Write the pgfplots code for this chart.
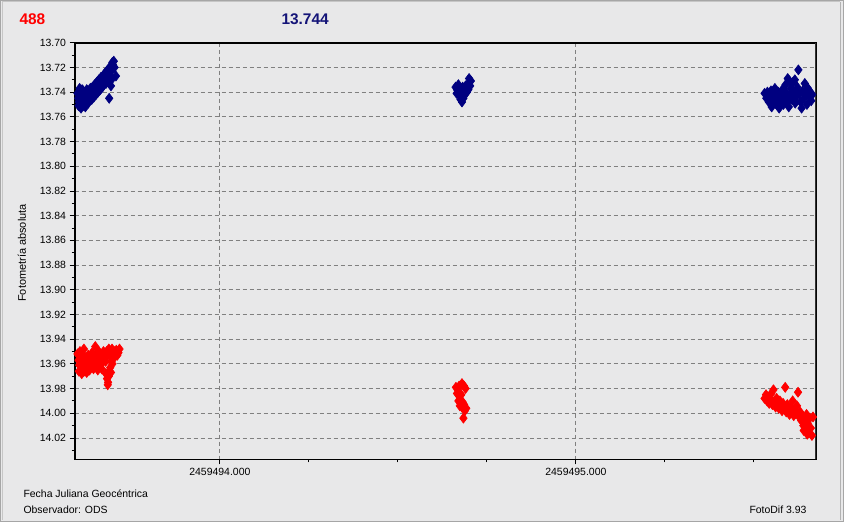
\documentclass[border=0pt]{standalone}
\usepackage{pgfplots}
\pgfplotsset{compat=1.18}
\usepackage{fontspec}
\setmainfont{Liberation Sans}
\definecolor{bgcol}{RGB}{232,232,233}
\definecolor{navy}{RGB}{0,0,128}
\definecolor{titlenavy}{RGB}{20,20,120}
\definecolor{gridgray}{RGB}{128,128,128}
\begin{document}
\begin{tikzpicture}
\useasboundingbox (0,0) rectangle (844bp,522bp);
\fill[bgcol] (0,0) rectangle (844bp,522bp);
\draw[gray!70, line width=1bp] (0.5bp,0.5bp) rectangle (843.5bp,521.5bp);
\draw[gray!45, line width=1bp] (2bp,2bp) -- (2bp,520bp) -- (840bp,520bp);
\draw[gray!60, line width=1bp] (840bp,2bp) -- (840bp,520bp);
\node[anchor=west, text=red, font=\fontsize{15.5}{18}\selectfont\bfseries] at (16bp,503bp) {488};
\node[anchor=west, text=titlenavy, font=\fontsize{15.5}{18}\selectfont\bfseries] at (278bp,503bp) {13.744};
\node[rotate=90, font=\fontsize{11}{13}\selectfont] at (22bp,269bp) {Fotometría absoluta};
\node[anchor=west, font=\fontsize{10.5}{12}\selectfont] at (20bp,28bp) {Fecha Juliana Geocéntrica};
\node[anchor=west, font=\fontsize{10.5}{12}\selectfont] at (20bp,12bp) {Observador: ODS};
\node[anchor=east, font=\fontsize{10.5}{12}\selectfont] at (810bp,12bp) {FotoDif 3.93};
\begin{axis}[
  at={(74.5bp,62.7bp)}, anchor=south west,
  scale only axis, width=741.5bp, height=416.6bp,
  xmin=0.5916, xmax=2.6745,
  ymin=13.70, ymax=14.0373, y dir=reverse,
  xtick={1,2}, xticklabels={2459494.000,2459495.000},
  minor xtick={1.25,1.5,1.75,2.25,2.5},
  ytick={13.70,13.72,13.74,13.76,13.78,13.80,13.82,13.84,13.86,13.88,13.90,13.92,13.94,13.96,13.98,14.00,14.02},
  minor ytick={13.71,13.73,13.75,13.77,13.79,13.81,13.83,13.85,13.87,13.89,13.91,13.93,13.95,13.97,13.99,14.01,14.03},
  yticklabel style={/pgf/number format/.cd,fixed,fixed zerofill,precision=2},
  /pgf/number format/assume math mode=true,
  ticklabel style={font=\fontsize{10.5}{12}\selectfont},
  tick pos=left, tick align=outside,
  major tick length=5bp, minor tick length=3bp,
  tick style={black, line width=0.8bp},
  grid=major,
  major grid style={gridgray, line width=0.8bp, dash pattern=on 4bp off 3bp},
  axis line style={black, line width=1bp},
  axis background/.style={fill=bgcol},
  clip=true,
  blue pts/.style={only marks, mark=diamond*, mark size=5bp, color=navy, mark options={draw=navy, fill=navy, line width=0.6bp}},
  red pts/.style={only marks, mark=diamond*, mark size=5bp, color=red, mark options={draw=red, fill=red, line width=0.6bp}},
]
% blue cluster 1
\addplot[blue pts] coordinates {
(0.600,13.741)(0.602,13.745)(0.604,13.748)(0.606,13.740)(0.608,13.744)(0.610,13.749)(0.612,13.742)(0.614,13.746)(0.616,13.739)(0.618,13.751)(0.620,13.744)(0.622,13.740)(0.624,13.747)(0.626,13.738)(0.628,13.743)(0.630,13.749)(0.632,13.741)(0.634,13.745)(0.636,13.737)(0.638,13.742)(0.640,13.746)(0.642,13.736)(0.644,13.740)(0.646,13.744)(0.648,13.734)(0.650,13.738)(0.652,13.742)(0.654,13.732)(0.656,13.736)(0.658,13.740)(0.660,13.730)(0.662,13.734)(0.664,13.738)(0.666,13.728)(0.668,13.732)(0.670,13.736)(0.672,13.727)(0.674,13.731)(0.676,13.725)(0.678,13.729)(0.680,13.733)(0.682,13.723)(0.684,13.727)(0.686,13.722)(0.688,13.726)(0.690,13.720)(0.692,13.724)(0.694,13.719)(0.696,13.722)(0.698,13.716)(0.700,13.718)(0.702,13.715)(0.704,13.720)(0.690,13.731)(0.694,13.735)(0.698,13.729)(0.689,13.745)(0.708,13.727)
(0.603,13.751)(0.610,13.753)(0.615,13.750)(0.622,13.752)(0.628,13.747)(0.606,13.737)(0.613,13.738)
};
% red cluster 1
\addplot[red pts] coordinates {
(0.600,13.952)(0.603,13.957)(0.605,13.961)(0.607,13.950)(0.609,13.955)(0.611,13.959)(0.613,13.963)(0.615,13.953)(0.617,13.957)(0.619,13.961)(0.621,13.966)(0.623,13.955)(0.625,13.959)(0.627,13.963)(0.630,13.953)(0.633,13.958)(0.636,13.962)(0.639,13.956)(0.642,13.960)(0.645,13.964)(0.648,13.954)(0.650,13.946)(0.652,13.959)(0.655,13.963)(0.658,13.953)(0.661,13.957)(0.664,13.961)(0.667,13.955)(0.670,13.959)(0.673,13.950)(0.676,13.954)(0.679,13.958)(0.682,13.950)(0.685,13.953)(0.688,13.948)(0.691,13.952)(0.694,13.950)(0.697,13.948)(0.700,13.952)(0.703,13.950)(0.706,13.954)(0.709,13.949)(0.712,13.953)(0.715,13.951)(0.718,13.948)
(0.680,13.968)(0.683,13.972)(0.686,13.975)(0.688,13.970)(0.690,13.966)(0.692,13.963)(0.694,13.967)(0.685,13.977)(0.695,13.958)(0.698,13.960)
(0.604,13.966)(0.612,13.968)(0.618,13.948)(0.626,13.967)(0.634,13.965)(0.641,13.951)(0.657,13.965)(0.668,13.964)(0.660,13.950)
};
% blue cluster 2
\addplot[blue pts] coordinates {
(1.700,13.729)(1.705,13.731)(1.698,13.733)(1.703,13.735)(1.695,13.736)(1.662,13.736)(1.666,13.738)(1.670,13.734)(1.674,13.737)(1.678,13.740)(1.682,13.736)(1.686,13.739)(1.690,13.735)(1.694,13.740)(1.698,13.738)(1.665,13.741)(1.672,13.742)(1.680,13.743)(1.688,13.742)(1.676,13.746)(1.684,13.745)(1.680,13.748)
};
% red cluster 2
\addplot[red pts] coordinates {
(1.663,13.979)(1.668,13.981)(1.672,13.978)(1.680,13.976)(1.686,13.978)(1.690,13.980)(1.666,13.984)(1.672,13.986)(1.678,13.985)(1.670,13.990)(1.676,13.989)(1.682,13.991)(1.674,13.994)(1.680,13.995)(1.686,13.993)(1.692,13.996)(1.688,13.998)(1.684,14.004)
};
% blue cluster 3
\addplot[blue pts] coordinates {
(2.530,13.741)(2.535,13.745)(2.538,13.740)(2.542,13.748)(2.545,13.743)(2.548,13.739)(2.550,13.752)(2.553,13.746)(2.556,13.742)(2.559,13.737)(2.562,13.749)(2.565,13.744)(2.568,13.740)(2.571,13.753)(2.574,13.747)(2.577,13.742)(2.580,13.738)(2.583,13.750)(2.586,13.745)(2.589,13.734)(2.592,13.741)(2.595,13.748)(2.598,13.752)(2.601,13.743)(2.604,13.737)(2.607,13.746)(2.610,13.732)(2.613,13.740)(2.616,13.749)(2.619,13.744)(2.622,13.736)(2.625,13.722)(2.628,13.741)(2.631,13.748)(2.634,13.753)(2.637,13.739)(2.640,13.745)(2.643,13.733)(2.646,13.742)(2.649,13.750)(2.652,13.737)(2.655,13.744)(2.658,13.740)(2.661,13.747)(2.664,13.742)(2.595,13.729)(2.600,13.731)(2.615,13.730)
};
% red cluster 3
\addplot[red pts] coordinates {
(2.530,13.988)(2.534,13.985)(2.537,13.990)(2.540,13.987)(2.543,13.992)(2.546,13.989)(2.549,13.984)(2.552,13.993)(2.555,13.981)(2.558,13.990)(2.561,13.995)(2.564,13.988)(2.567,13.992)(2.570,13.996)(2.573,13.990)(2.576,13.994)(2.579,13.998)(2.582,13.992)(2.585,13.996)(2.588,13.979)(2.591,13.999)(2.594,13.993)(2.597,13.997)(2.600,14.001)(2.603,13.995)(2.606,13.999)(2.609,13.990)(2.612,14.002)(2.615,13.997)(2.618,14.000)(2.621,13.994)(2.624,13.983)(2.627,14.003)(2.630,13.999)(2.633,14.006)(2.636,14.002)(2.639,14.010)(2.642,14.005)(2.645,14.013)(2.648,14.001)(2.651,14.008)(2.654,14.016)(2.657,14.004)(2.660,14.012)(2.663,14.018)(2.666,14.003)(2.650,14.017)(2.640,14.014)
};
\draw[black, line width=3bp] (rel axis cs:0,0) -- (rel axis cs:0,1);
\draw[black, line width=3bp] (rel axis cs:0,1) -- (rel axis cs:1,1);
\draw[black!80, line width=2bp] (rel axis cs:1,0) -- (rel axis cs:1,1);
\end{axis}
\end{tikzpicture}
\end{document}
